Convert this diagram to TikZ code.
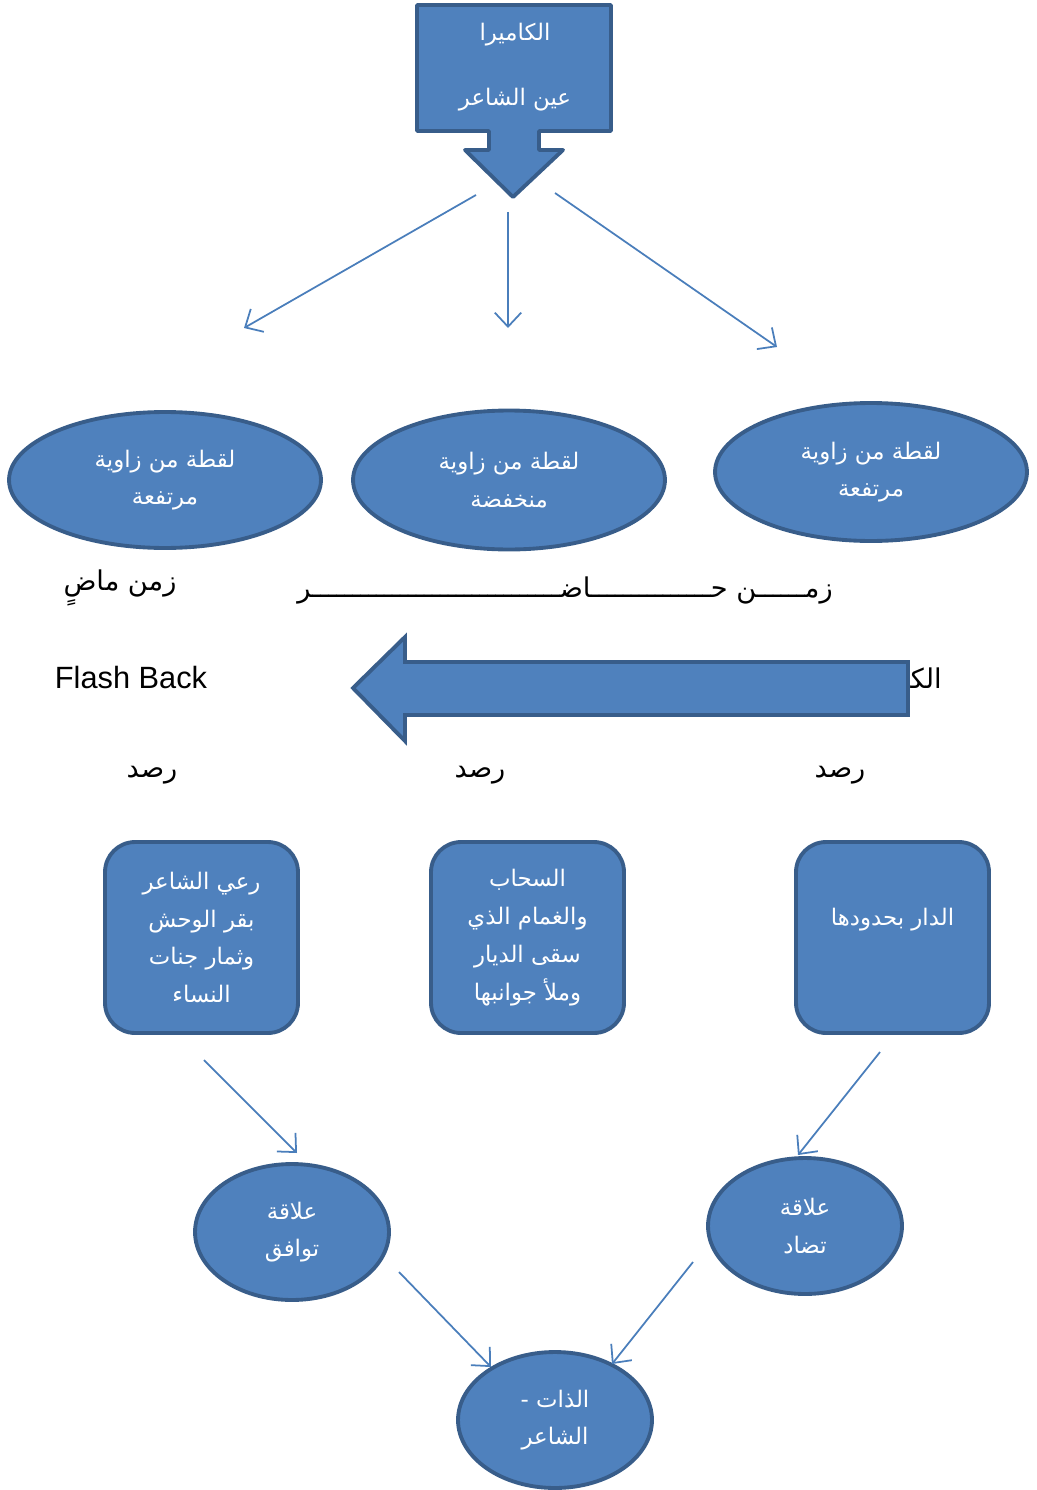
\documentclass[tikz,border=0pt]{standalone}
\usepackage{fontspec}
\setmainfont{Liberation Sans}
\newfontfamily\arabicfont[Script=Arabic]{DejaVu Sans}
\TeXXeTstate=1
\usetikzlibrary{arrows.meta,shapes.geometric}
\definecolor{boxblue}{HTML}{4F81BD}
\definecolor{edgeblue}{HTML}{385D8A}
\definecolor{lineblue}{HTML}{4A7EBB}
\newcommand{\artext}[1]{\beginR#1\endR}
\tikzset{
  shapebox/.style={fill=boxblue,draw=edgeblue,line width=2.2pt,line join=round},
  intext/.style={text=white,align=center,font=\arabicfont\fontsize{13}{21.5}\selectfont},
  oval/.style={shapebox,intext,ellipse,inner sep=0pt},
  roundbox/.style={shapebox,intext,rectangle,rounded corners=0.6cm,inner sep=0pt,
    minimum width=3.86cm,minimum height=3.82cm},
  outtext/.style={text=black,font=\arabicfont\fontsize{15.5}{18}\selectfont},
  link/.style={draw=lineblue,line width=1pt,->}
}
\begin{document}
\begin{tikzpicture}[x=0.02cm,y=-0.02cm,
    >={Straight Barb[length=8pt,width=15pt]}]
\useasboundingbox (0,0) rectangle (1037,1490);

%camera
\draw[shapebox] (417,5) -- (611,5) -- (611,131) -- (539,131) -- (539,150) -- (563,150)
  -- (513,197) -- (465,150) -- (489,150) -- (489,131) -- (417,131) -- cycle;
\node[intext] (cam) at (515,35) {\artext{الكاميرا}};
\node[intext] (eye) at (515,100) {\artext{عين الشاعر}};

\foreach \i/\sx/\sy/\ex/\ey in {1/476/195/244/328, 2/508/212/508/328, 3/555/193/777/347}{
  \coordinate (cs\i) at (\sx,\sy);
  \coordinate (ce\i) at (\ex,\ey);
  \draw[link] (cs\i) -- (ce\i);
}

%shots
\node[oval,minimum width=6.24cm,minimum height=2.72cm] (shotL) at (165,480)
  {\artext{لقطة من زاوية}\\\artext{مرتفعة}};
\node[oval,minimum width=6.24cm,minimum height=2.78cm] (shotM) at (509,480)
  {\artext{لقطة من زاوية}\\\artext{منخفضة}};
\node[oval,minimum width=6.24cm,minimum height=2.76cm] (shotR) at (871,472)
  {\artext{لقطة من زاوية}\\\artext{مرتفعة}};

%time
\node[outtext] (past) at (120,588) {\artext{زمن ماضٍ}};
\node[outtext] (present) at (565,590)
  {\artext{زمــــــن حـــــــــــــــاضـــــــــــــــــــــــــــــــر}};

%flash back arrow
\node[outtext,anchor=east,inner sep=0pt] (camcut) at (942,678) {\artext{الكا}};
\draw[shapebox,line join=miter] (908,662) -- (405,662) -- (405,637) -- (353,688)
  -- (405,741) -- (405,715) -- (908,715) -- cycle;
\node[font=\fontsize{17.5}{20}\selectfont] (flash) at (131,678) {Flash Back};

\foreach \i/\x in {1/152, 2/480, 3/840}{
  \node[outtext] (watch\i) at (\x,775) {\artext{رصد}};
}

%scenes
\node[roundbox] (sceneL) at (201.5,937.5)
  {\artext{رعي الشاعر}\\\artext{بقر الوحش}\\\artext{وثمار جنات}\\\artext{النساء}};
\node[roundbox] (sceneM) at (527.5,937.5)
  {\artext{السحاب}\\\artext{والغمام الذي}\\\artext{سقى الديار}\\\artext{وملأ جوانبها}};
\node[roundbox,text depth=23pt] (sceneR) at (892.5,937.5) {\artext{الدار بحدودها}};

%relations
\node[oval,minimum width=3.88cm,minimum height=2.72cm] (agree) at (292,1232)
  {\artext{علاقة}\\\artext{توافق}};
\node[oval,minimum width=3.88cm,minimum height=2.72cm] (oppose) at (805,1226)
  {\artext{علاقة}\\\artext{تضاد}};
\node[oval,minimum width=3.88cm,minimum height=2.72cm] (self) at (555,1420)
  {\artext{الذات -}\\\artext{الشاعر}};

\foreach \i/\sx/\sy/\ex/\ey in {4/204/1060/297/1153, 5/880/1052/798/1155,
    6/399/1272/491/1367, 7/693/1262/612/1364}{
  \coordinate (cs\i) at (\sx,\sy);
  \coordinate (ce\i) at (\ex,\ey);
  \draw[link] (cs\i) -- (ce\i);
}
\end{tikzpicture}
\end{document}
